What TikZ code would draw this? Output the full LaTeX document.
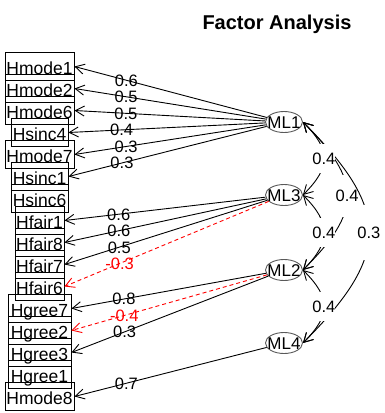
\documentclass[tikz,border=0pt]{standalone}
\usepackage{fontspec}
\setmainfont{Liberation Sans}
\usetikzlibrary{shapes.geometric,arrows.meta,calc}
\begin{document}
\begin{tikzpicture}[x=1pt,y=-1pt,
  vbox/.style={draw=black, line width=0.9pt, minimum height=28pt, inner sep=0pt,
    font=\fontsize{17.5}{20}\selectfont, text height=16.3pt, text depth=0pt},
  fac/.style={draw=gray!70!black, ellipse, minimum width=37pt, minimum height=21pt,
    inner sep=0pt, line width=0.9pt},
  ftext/.style={font=\fontsize{17}{19}\selectfont, inner sep=0pt, text height=12.2pt, text depth=0pt},
  lbl/.style={font=\fontsize{16.5}{18}\selectfont, inner sep=0pt, text height=11.8pt, text depth=0pt},
  load/.style={draw=black, line width=0.9pt, -{Straight Barb[length=9pt,width=10pt]}},
  neg/.style={load, draw=red, dash pattern=on 4pt off 3pt},
  corr/.style={draw=black, line width=0.9pt, {Straight Barb[length=9pt,width=10pt]}-{Straight Barb[length=9pt,width=10pt]}},
  clbl/.style={lbl, fill=white, inner xsep=0pt}
]
\useasboundingbox (0,0) rectangle (384,413);
\node[font=\fontsize{20}{24}\selectfont\bfseries, anchor=base, inner sep=0pt] (title) at (277,29.5) {Factor Analysis};

\node[vbox, minimum width=69pt] (v0) at (39.5,66.5) {Hmode1};
\node[vbox, minimum width=69pt] (v1) at (39.5,88.5) {Hmode2};
\node[vbox, minimum width=69pt] (v2) at (39.5,110.5) {Hmode6};
\node[vbox, minimum width=57pt] (v3) at (39.5,132.5) {Hsinc4};
\node[vbox, minimum width=69pt] (v4) at (39.5,154.5) {Hmode7};
\node[vbox, minimum width=57pt] (v5) at (39.5,176.5) {Hsinc1};
\node[vbox, minimum width=57pt] (v6) at (39.5,198.5) {Hsinc6};
\node[vbox, minimum width=49pt] (v7) at (39.5,220.5) {Hfair1};
\node[vbox, minimum width=49pt] (v8) at (39.5,242.5) {Hfair8};
\node[vbox, minimum width=49pt] (v9) at (39.5,264.5) {Hfair7};
\node[vbox, minimum width=49pt] (v10) at (39.5,286.5) {Hfair6};
\node[vbox, minimum width=63pt] (v11) at (39.5,308.5) {Hgree7};
\node[vbox, minimum width=63pt] (v12) at (39.5,330.5) {Hgree2};
\node[vbox, minimum width=63pt] (v13) at (39.5,352.5) {Hgree3};
\node[vbox, minimum width=63pt] (v14) at (39.5,374.5) {Hgree1};
\node[vbox, minimum width=69pt] (v15) at (39.5,396.5) {Hmode8};

\node[fac] (ML1) at (284,122) {};
\node[fac] (ML3) at (284,195) {};
\node[fac] (ML2) at (284,270) {};
\node[fac] (ML4) at (284,343) {};
\node[ftext] (t1) at (ML1) {ML1};
\node[ftext] (t3) at (ML3) {ML3};
\node[ftext] (t2) at (ML2) {ML2};
\node[ftext] (t4) at (ML4) {ML4};

\draw[load] (ML1) -- node[lbl,pos=0.73] (l0) {0.6} (v0.east);
\draw[load] (ML1) -- node[lbl,pos=0.73] (l1) {0.5} (v1.east);
\draw[load] (ML1) -- node[lbl,pos=0.73] (l2) {0.5} (v2.east);
\draw[load] (ML1) -- node[lbl,pos=0.73] (l3) {0.4} (v3.east);
\draw[load] (ML1) -- node[lbl,pos=0.73] (l4) {0.3} (v4.east);
\draw[load] (ML1) -- node[lbl,pos=0.73] (l5) {0.3} (v5.east);
\draw[load] (ML3) -- node[lbl,pos=0.73] (l7) {0.6} (v7.east);
\draw[load] (ML3) -- node[lbl,pos=0.73] (l8) {0.6} (v8.east);
\draw[load] (ML3) -- node[lbl,pos=0.73] (l9) {0.5} (v9.east);
\draw[neg] (ML3) -- node[lbl,pos=0.73,text=red] (l10) {-0.3} (v10.east);
\draw[load] (ML2) -- node[lbl,pos=0.73] (l11) {0.8} (v11.east);
\draw[neg] (ML2) -- node[lbl,pos=0.73,text=red] (l12) {-0.4} (v12.east);
\draw[load] (ML2) -- node[lbl,pos=0.73] (l13) {0.3} (v13.east);
\draw[load] (ML4) -- node[lbl,pos=0.73] (l15) {0.7} (v15.east);

\draw[corr] (ML1.east) .. controls ($(ML1.east)+(59,59)$) and ($(ML2.east)+(59,-59)$) .. node[clbl, inner ysep=15pt] (c12) {0.4} (ML2.east);
\draw[corr] (ML1.east) .. controls ($(ML1.east)+(88,88)$) and ($(ML4.east)+(88,-88)$) .. node[clbl, inner ysep=22pt] (c14) {0.3} (ML4.east);
\draw[corr] (ML1.east) .. controls ($(ML1.east)+(28,28)$) and ($(ML3.east)+(28,-28)$) .. node[clbl, inner ysep=9pt] (c13) {0.4} (ML3.east);
\draw[corr] (ML3.east) .. controls ($(ML3.east)+(28,28)$) and ($(ML2.east)+(28,-28)$) .. node[clbl, inner ysep=9pt] (c32) {0.4} (ML2.east);
\draw[corr] (ML2.east) .. controls ($(ML2.east)+(28,28)$) and ($(ML4.east)+(28,-28)$) .. node[clbl, inner ysep=9pt] (c24) {0.4} (ML4.east);
\end{tikzpicture}
\end{document}
